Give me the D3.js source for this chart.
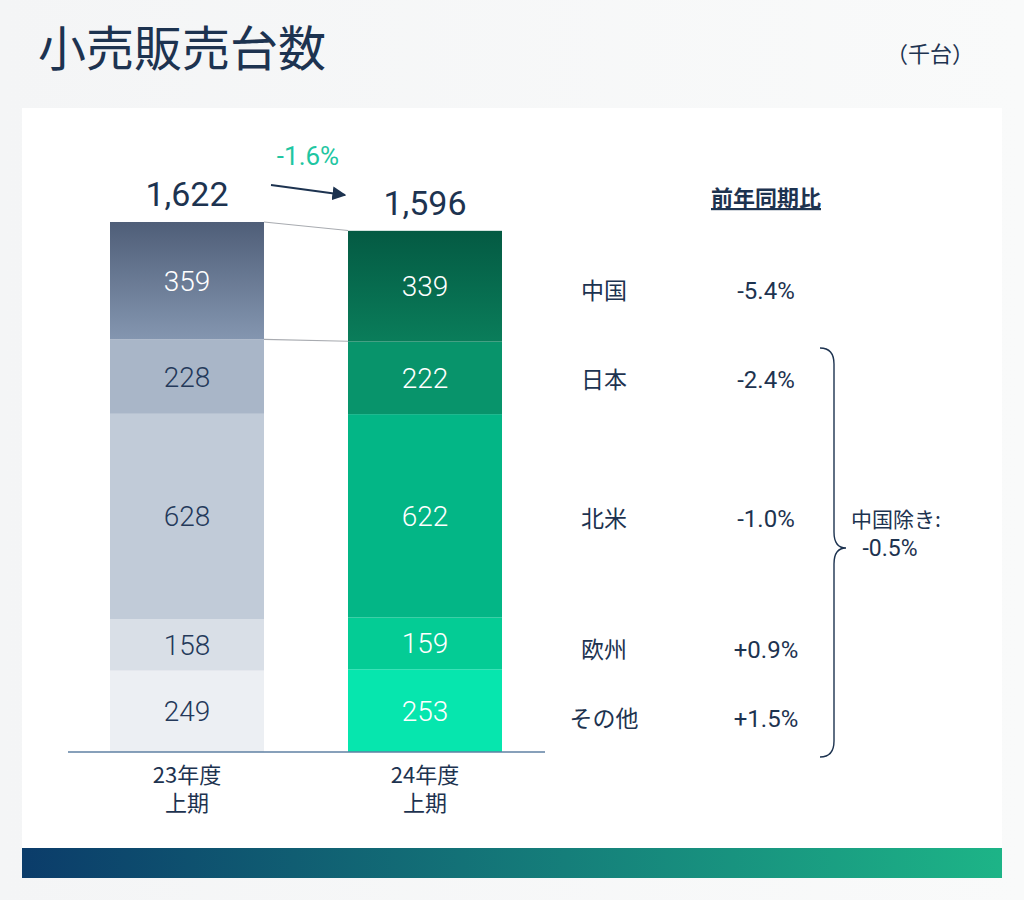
<!DOCTYPE html>
<html><head><meta charset="utf-8">
<script src="https://cdn.jsdelivr.net/npm/d3@7"></script>
<style>
body{margin:0;background:#fff;}
svg{display:block;font-family:"Noto Sans CJK JP","Noto Sans",sans-serif;}
</style></head>
<body><svg id="c" width="1024" height="900"></svg>
<script>
var periods = ['23年度|上期', '24年度|上期'];
var regions = ['その他', '欧州', '北米', '日本', '中国'];
var values23 = [249, 158, 628, 228, 359];
var values24 = [253, 159, 622, 222, 339];
var totals = ['1,622', '1,596'];
var yoy = ['+1.5%', '+0.9%', '-1.0%', '-2.4%', '-5.4%'];
var colors23 = ['#eceff3', '#d9dfe7', '#c1cbd8', '#a9b6c8', '#6d7e98'];
var colors24 = ['#06e6ae', '#04cc95', '#03b686', '#08946b', '#066a4d'];

var svg = d3.select('#c');
var defs = svg.append('defs');

var bg = defs.append('linearGradient').attr('id', 'bg').attr('x1', 0).attr('x2', 1);
bg.append('stop').attr('offset', 0).attr('stop-color', '#f4f5f6');
bg.append('stop').attr('offset', 1).attr('stop-color', '#f9fafa');
var band = defs.append('linearGradient').attr('id', 'band').attr('x1', 0).attr('x2', 1);
band.append('stop').attr('offset', 0).attr('stop-color', '#0b3c6a');
band.append('stop').attr('offset', 1).attr('stop-color', '#1db487');
var g1 = defs.append('linearGradient').attr('id', 'cn23').attr('x1', 0).attr('x2', 0).attr('y1', 0).attr('y2', 1);
g1.append('stop').attr('offset', 0).attr('stop-color', '#4f5e78');
g1.append('stop').attr('offset', 1).attr('stop-color', '#8496b0');
var g2 = defs.append('linearGradient').attr('id', 'cn24').attr('x1', 0).attr('x2', 0).attr('y1', 0).attr('y2', 1);
g2.append('stop').attr('offset', 0).attr('stop-color', '#045a43');
g2.append('stop').attr('offset', 1).attr('stop-color', '#0a7d5a');

svg.append('rect').attr('width', 1024).attr('height', 900).attr('fill', 'url(#bg)');
svg.append('rect').attr('x', 22).attr('y', 108).attr('width', 980).attr('height', 742).attr('fill', '#fff');
svg.append('rect').attr('x', 22).attr('y', 848).attr('width', 980).attr('height', 30).attr('fill', 'url(#band)');

svg.append('text').attr('x', 38).attr('y', 66).attr('font-size', 48).attr('fill', '#1d3350').text('小売販売台数');
svg.append('text').attr('x', 930).attr('y', 62).attr('font-size', 22).attr('fill', '#1d3350').attr('text-anchor', 'middle').text('（千台）');

var baseY = 752;
var y = d3.scaleLinear().domain([0, 1622]).range([baseY, 222]);
var x = d3.scaleBand().domain([0, 1]).range([110, 502]).paddingInner(0.353).paddingOuter(0);

function stack(vals) {
    var acc = 0;
    return vals.map(function (v, i) { var s = {i: i, v: v, y0: acc}; acc += v; s.y1 = acc; return s; });
}
var s23 = stack(values23), s24 = stack(values24);

[[s23, colors23, 'cn23', '#24395a', '#fff'], [s24, colors24, 'cn24', '#fff', '#fff']].forEach(function (cfg, k) {
    var g = svg.append('g');
    g.selectAll('rect').data(cfg[0]).enter().append('rect')
        .attr('x', x(k)).attr('width', x.bandwidth())
        .attr('y', function (d) { return y(d.y1); })
        .attr('height', function (d) { return y(d.y0) - y(d.y1); })
        .attr('fill', function (d) { return d.i === 4 ? 'url(#' + cfg[2] + ')' : cfg[1][d.i]; });
    g.selectAll('text').data(cfg[0]).enter().append('text')
        .attr('x', x(k) + x.bandwidth() / 2)
        .attr('y', function (d) { return (y(d.y0) + y(d.y1)) / 2 + 10; })
        .attr('text-anchor', 'middle').attr('font-size', 28)
        .attr('font-family', 'Roboto, sans-serif').attr('font-weight', 300)
        .attr('fill', function (d) { return d.i === 4 ? cfg[4] : cfg[3]; })
        .text(function (d) { return d.v; });
    g.append('text').attr('x', x(k) + x.bandwidth() / 2).attr('y', y(d3.sum(cfg[0], function (d) { return d.v; })) - 16)
        .attr('text-anchor', 'middle').attr('font-size', 34).attr('font-family', 'Roboto, sans-serif')
        .attr('fill', '#1d3350').text(totals[k]);
    periods[k].split('|').forEach(function (t, j) {
        g.append('text').attr('x', x(k) + x.bandwidth() / 2).attr('y', 783 + j * 28)
            .attr('text-anchor', 'middle').attr('font-size', 22).attr('fill', '#1d3350').text(t);
    });
});

// connector lines for China segment
var xr = x(0) + x.bandwidth(), xl = x(1);
[[y(1622), y(1596)], [y(1622 - 359), y(1596 - 339)]].forEach(function (p) {
    svg.append('line').attr('x1', xr).attr('x2', xl).attr('y1', p[0]).attr('y2', p[1])
        .attr('stroke', '#a8abb0').attr('stroke-width', 1.2);
});
svg.append('line').attr('x1', 68).attr('x2', 545).attr('y1', baseY).attr('y2', baseY)
    .attr('stroke', '#5f80a3').attr('stroke-width', 1.5);

// change arrow
defs.append('marker').attr('id', 'ah').attr('viewBox', '0 0 10 10').attr('refX', 9).attr('refY', 5)
    .attr('markerWidth', 7).attr('markerHeight', 7).attr('orient', 'auto')
    .append('path').attr('d', 'M0,0L10,5L0,10z').attr('fill', '#1d3350');
svg.append('line').attr('x1', 271).attr('y1', 185).attr('x2', 345).attr('y2', 195)
    .attr('stroke', '#1d3350').attr('stroke-width', 2).attr('marker-end', 'url(#ah)');
svg.append('text').attr('x', 308).attr('y', 165).attr('text-anchor', 'middle').attr('font-size', 26)
    .attr('font-family', 'Roboto, sans-serif').attr('fill', '#1fc6a2').text('-1.6%');

// right side table
svg.append('text').attr('x', 766).attr('y', 206).attr('text-anchor', 'middle').attr('font-size', 22)
    .attr('font-weight', 'bold').attr('fill', '#1d3350').attr('text-decoration', 'underline').text('前年同期比');
var rowY = [719, 650, 519, 380, 291];
regions.forEach(function (r, i) {
    svg.append('text').attr('x', 604).attr('y', rowY[i] + 8).attr('text-anchor', 'middle')
        .attr('font-size', 23).attr('fill', '#1d3350').text(r);
    svg.append('text').attr('x', 766).attr('y', rowY[i] + 8).attr('text-anchor', 'middle')
        .attr('font-size', 24).attr('font-family', 'Roboto, sans-serif').attr('fill', '#1d3350').text(yoy[i]);
});

// brace
var bx = 820, t = 348, b = 757, m = 548;
svg.append('path').attr('fill', 'none').attr('stroke', '#1d3350').attr('stroke-width', 1.4)
    .attr('d', 'M' + bx + ',' + t + ' Q' + (bx + 14) + ',' + t + ' ' + (bx + 14) + ',' + (t + 16) +
        ' L' + (bx + 14) + ',' + (m - 16) + ' Q' + (bx + 14) + ',' + m + ' ' + (bx + 26) + ',' + m +
        ' Q' + (bx + 14) + ',' + m + ' ' + (bx + 14) + ',' + (m + 16) +
        ' L' + (bx + 14) + ',' + (b - 16) + ' Q' + (bx + 14) + ',' + b + ' ' + bx + ',' + b);
svg.append('text').attr('x', 896).attr('y', 527).attr('text-anchor', 'middle').attr('font-size', 21)
    .attr('fill', '#1d3350').text('中国除き:');
svg.append('text').attr('x', 890).attr('y', 556).attr('text-anchor', 'middle').attr('font-size', 23)
    .attr('font-family', 'Roboto, sans-serif').attr('fill', '#1d3350').text('-0.5%');
</script></body></html>
